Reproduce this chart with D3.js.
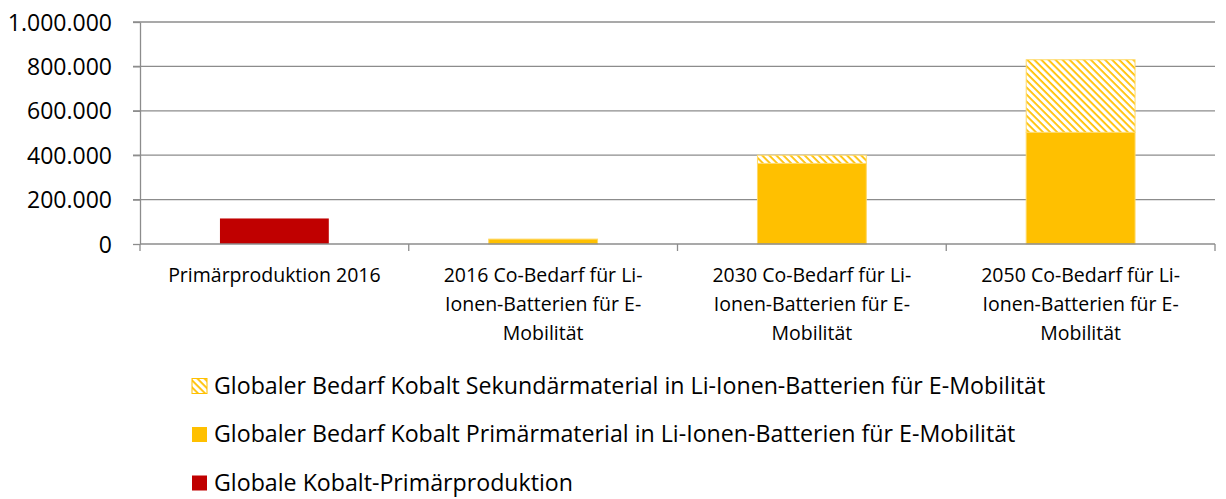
<!DOCTYPE html>
<html>
<head>
<meta charset="utf-8">
<script src="https://cdn.jsdelivr.net/npm/d3@7"></script>
<style>
  body { margin: 0; background: #fff; }
  text { font-family: "Open Sans", sans-serif; fill: #000; }
</style>
</head>
<body>
<div id="chart"></div>
<script>
var categories = [
  ["Primärproduktion 2016"],
  ["2016 Co-Bedarf für Li-", "Ionen-Batterien für E-", "Mobilität"],
  ["2030 Co-Bedarf für Li-", "Ionen-Batterien für E-", "Mobilität"],
  ["2050 Co-Bedarf für Li-", "Ionen-Batterien für E-", "Mobilität"]
]
var primaerproduktion = [115000, 0, 0, 0]
var bedarfPrimaer = [0, 22000, 363000, 503000]
var bedarfSekundaer = [0, 0, 37000, 327000]
var yTicks = [0, 200000, 400000, 600000, 800000, 1000000]
var legendLabels = [
  "Globaler Bedarf Kobalt Sekundärmaterial in Li-Ionen-Batterien für E-Mobilität",
  "Globaler Bedarf Kobalt Primärmaterial in Li-Ionen-Batterien für E-Mobilität",
  "Globale Kobalt-Primärproduktion"
]

var width = 1226, height = 499
var margin = {top: 22, right: 11, left: 140}
var plotBottom = 244

var svg = d3.select("#chart").append("svg")
  .attr("width", width)
  .attr("height", height)

var defs = svg.append("defs")
var pat = defs.append("pattern")
  .attr("id", "hatch")
  .attr("patternUnits", "userSpaceOnUse")
  .attr("width", 5).attr("height", 5)
  .attr("patternTransform", "rotate(45)")
pat.append("rect").attr("width", 5).attr("height", 5).attr("fill", "#fff")
pat.append("rect").attr("width", 5).attr("height", 1.8).attr("fill", "#FFC000")

var x = d3.scaleBand()
  .domain(d3.range(categories.length))
  .range([margin.left, width - margin.right])
  .paddingInner(0.595)
  .paddingOuter(0.2975)

var xBand = d3.scaleBand()
  .domain(d3.range(categories.length))
  .range([margin.left, width - margin.right])

var y = d3.scaleLinear()
  .domain([0, 1000000])
  .range([plotBottom, margin.top])

var fmt = d3.formatLocale({decimal: ",", thousands: ".", grouping: [3], currency: ["", "€"]}).format(",")

// gridlines
svg.append("g")
  .selectAll("line")
  .data(yTicks.filter(d => d > 0))
  .enter().append("line")
    .attr("x1", margin.left - 7)
    .attr("x2", width - margin.right)
    .attr("y1", d => y(d)).attr("y2", d => y(d))
    .attr("stroke", "#8c8c8c").attr("stroke-width", 1.3)

// y axis
var yAxis = svg.append("g")
  .attr("transform", "translate(" + margin.left + ",0)")
  .call(d3.axisLeft(y).tickValues(yTicks).tickFormat(fmt).tickSize(7).tickSizeOuter(0))
yAxis.select(".domain").attr("stroke", "#8c8c8c").attr("stroke-width", 1.3)
yAxis.selectAll(".tick line").attr("stroke", "#8c8c8c").attr("stroke-width", 1.3)
yAxis.selectAll(".tick text")
  .attr("x", -28)
  .attr("dy", "0.35em")
  .style("font-size", "23px")
  .style("font-family", "'Open Sans', sans-serif")

// bars
var stacks = categories.map((c, i) => [
  {y0: 0, y1: primaerproduktion[i], fill: "#C00000", stroke: "none"},
  {y0: 0, y1: bedarfPrimaer[i], fill: "#FFC000", stroke: "#FFD966"},
  {y0: bedarfPrimaer[i], y1: bedarfPrimaer[i] + bedarfSekundaer[i], fill: "url(#hatch)", stroke: "#FFD966"}
].filter(s => s.y1 > s.y0).map(s => Object.assign(s, {i: i})))

svg.append("g")
  .selectAll("rect")
  .data(stacks.flat())
  .enter().append("rect")
    .attr("x", d => x(d.i))
    .attr("width", x.bandwidth())
    .attr("y", d => y(d.y1))
    .attr("height", d => y(d.y0) - y(d.y1))
    .attr("fill", d => d.fill)
    .attr("stroke", d => d.stroke)
    .attr("stroke-width", 1)

// x axis
svg.append("line")
  .attr("x1", margin.left).attr("x2", width - margin.right)
  .attr("y1", plotBottom).attr("y2", plotBottom)
  .attr("stroke", "#8c8c8c").attr("stroke-width", 1.3)

svg.append("g")
  .selectAll("line")
  .data(d3.range(categories.length + 1))
  .enter().append("line")
    .attr("x1", d => d < categories.length ? xBand(d) : width - margin.right)
    .attr("x2", d => d < categories.length ? xBand(d) : width - margin.right)
    .attr("y1", plotBottom).attr("y2", plotBottom + 7)
    .attr("stroke", "#8c8c8c").attr("stroke-width", 1.3)

var labels = svg.append("g")
  .selectAll("text")
  .data(categories)
  .enter().append("text")
    .attr("text-anchor", "middle")
    .attr("x", (d, i) => xBand(i) + xBand.bandwidth() / 2)
    .attr("y", 282)
    .style("font-size", "19.5px")
labels.selectAll("tspan")
  .data(d => d)
  .enter().append("tspan")
    .attr("x", function() { return d3.select(this.parentNode).attr("x") })
    .attr("dy", (d, i) => i === 0 ? 0 : 29)
    .text(d => d)

// legend
var legendFills = ["url(#hatch)", "#FFC000", "#C00000"]
var legend = svg.append("g")
  .selectAll("g")
  .data(legendLabels)
  .enter().append("g")
    .attr("transform", (d, i) => "translate(192," + (386 + i * 48.5) + ")")
legend.append("rect")
  .attr("x", 0).attr("y", -7.5)
  .attr("width", 15).attr("height", 15)
  .attr("fill", (d, i) => legendFills[i])
  .attr("stroke", (d, i) => i === 0 ? "#FFC000" : "none")
legend.append("text")
  .attr("x", 22).attr("y", 7.5)
  .style("font-size", "23.2px")
  .text(d => d)
</script>
</body>
</html>
